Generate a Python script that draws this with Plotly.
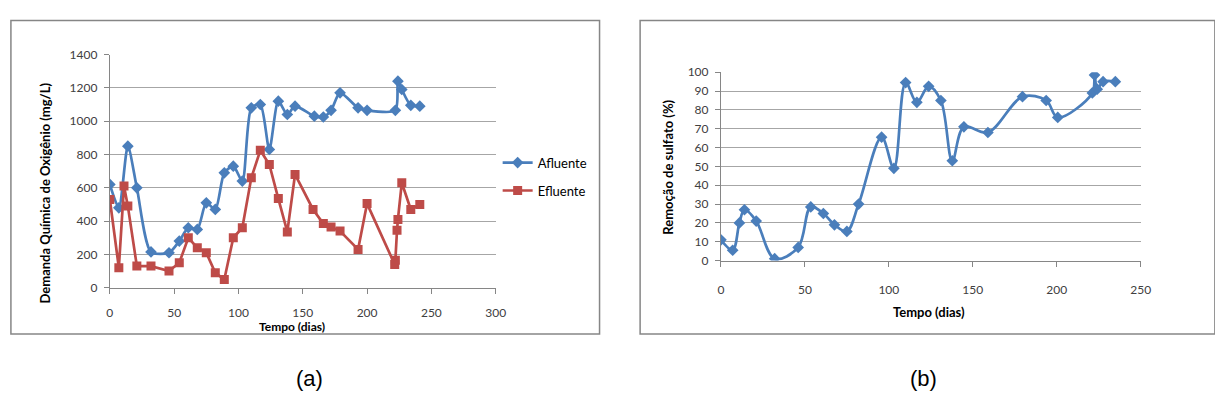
import plotly.graph_objects as go

W, H = 1215, 405

# ---- data panel (a) ----
afl_dias = [0, 7, 14, 21, 32, 46, 54, 61, 68, 75, 82, 89, 96, 103, 110, 117, 124, 131, 138, 144,
            159, 166, 172, 179, 193, 200, 222, 224, 227, 234, 241]
afl_dqo = [620, 480, 850, 600, 215, 210, 280, 360, 350, 510, 470, 690, 730, 640, 1080, 1100, 830, 1120, 1040, 1090,
           1030, 1025, 1065, 1170, 1080, 1065, 1065, 1240, 1190, 1095, 1090]

efl_dias = [0, 7, 11, 14, 21, 32, 46, 54, 61, 68, 75, 82, 89, 96, 103, 110, 117, 124, 131, 138, 144,
            158, 166, 172, 179, 193, 200, 221.5, 222, 223.3, 224, 227, 234, 241]
efl_dqo = [530, 120, 610, 490, 130, 130, 100, 150, 300, 240, 210, 90, 50, 300, 360, 660, 825, 740, 535, 335, 680,
           470, 385, 365, 340, 230, 505, 140, 165, 345, 410, 630, 470, 500]

# ---- data panel (b) ----
rem_dias = [0, 7, 11, 14, 21, 32, 46, 53.5, 61, 67.6, 75, 82, 95.7, 103, 110, 116.7, 123.7, 131, 137.8, 144.7,
            159, 179.6, 193.7, 200.6, 221.2, 222.5, 224.1, 227.6, 234.9]
rem_pct = [11, 5.5, 20, 27, 21, 1, 7, 28.5, 25, 19, 15.5, 30, 65.5, 49, 94.5, 84, 92.5, 85, 53, 71,
           68, 87, 85, 76, 89, 98.5, 91, 95, 95]

xa_ticks = [0, 50, 100, 150, 200, 250, 300]
ya_ticks = [0, 200, 400, 600, 800, 1000, 1200, 1400]
xb_ticks = [0, 50, 100, 150, 200, 250]
yb_ticks = [0, 10, 20, 30, 40, 50, 60, 70, 80, 90, 100]

BLUE = "#4A7EBB"
RED = "#BE4B48"
GRID = "#A6A6A6"
AXIS = "#868686"
TXT = "#404040"
FONT = "Lato, Open Sans, sans-serif"

def px(x):
    return x / W

def py(y):
    return 1 - y / H

fig = go.Figure()

fig.add_trace(go.Scatter(x=afl_dias, y=afl_dqo, name="Afluente", mode="lines+markers",
                         line=dict(color=BLUE, width=2.7, shape="spline", smoothing=0.7),
                         marker=dict(symbol="diamond", size=9, color=BLUE),
                         xaxis="x", yaxis="y", legendgroup="a"))
fig.add_trace(go.Scatter(x=efl_dias, y=efl_dqo, name="Efluente", mode="lines+markers",
                         line=dict(color=RED, width=2.7),
                         marker=dict(symbol="square", size=9, color=RED),
                         xaxis="x", yaxis="y", legendgroup="b"))
fig.add_trace(go.Scatter(x=rem_dias, y=rem_pct, name="Remoção", mode="lines+markers",
                         line=dict(color=BLUE, width=2.7, shape="spline", smoothing=1.0),
                         marker=dict(symbol="diamond", size=9, color=BLUE),
                         xaxis="x2", yaxis="y2", showlegend=False))

axis_common = dict(showline=True, linecolor=AXIS, linewidth=1, ticks="outside", ticklen=5,
                   tickcolor=AXIS, tickfont=dict(family=FONT, size=12, color=TXT), zeroline=False)

fig.update_layout(
    width=W, height=H, margin=dict(l=0, r=0, t=0, b=0),
    paper_bgcolor="white", plot_bgcolor="white",
    font=dict(family=FONT, size=12, color=TXT),
    xaxis=dict(domain=[px(108), px(498)], range=[0, 300], tickvals=xa_ticks, showgrid=False,
               anchor="y", ticklabelstandoff=9, **axis_common),
    yaxis=dict(domain=[py(290.5), py(48.3)], range=[0, 1400], tickvals=ya_ticks, showgrid=True,
               gridcolor=GRID, gridwidth=1, anchor="x", ticklabelstandoff=4, **axis_common),
    xaxis2=dict(domain=[px(725.7), px(1150)], range=[0, 250], tickvals=xb_ticks, showgrid=False,
                anchor="y2", ticklabelstandoff=13, **axis_common),
    yaxis2=dict(domain=[py(262.3), py(66.7)], range=[0, 100], tickvals=yb_ticks, showgrid=True,
                gridcolor=GRID, gridwidth=1, anchor="x2", ticklabelstandoff=4, **axis_common),
    legend=dict(x=px(500), y=py(145), xanchor="left", yanchor="top",
                font=dict(family=FONT, size=13, color="#000000"), bgcolor="rgba(0,0,0,0)",
                tracegroupgap=8, traceorder="grouped", itemwidth=30),
    showlegend=True,
)

shapes = [
    dict(type="rect", xref="paper", yref="paper", x0=px(8), x1=px(603), y0=py(338.5), y1=py(13),
         line=dict(color=AXIS, width=1.5), fillcolor="rgba(0,0,0,0)", layer="below"),
    dict(type="rect", xref="paper", yref="paper", x0=px(644), x1=px(1225), y0=py(338.5), y1=py(13),
         line=dict(color=AXIS, width=1.5), fillcolor="rgba(0,0,0,0)", layer="below"),
]
fig.update_layout(shapes=shapes)

bold = dict(family=FONT, size=13, color="#000000")
annotations = [
    dict(text="<b>Demanda Química de Oxigênio (mg/L)</b>", x=px(42), y=py(192), xref="paper", yref="paper",
         textangle=-90, showarrow=False, font=bold, xanchor="center", yanchor="middle"),
    dict(text="<b>Tempo (dias)</b>", x=px(292), y=py(331), xref="paper", yref="paper",
         showarrow=False, font=dict(family=FONT, size=12, color="#000000"),
         xanchor="center", yanchor="middle"),
    dict(text="<b>Remoção de sulfato (%)</b>", x=px(672), y=py(165), xref="paper", yref="paper",
         textangle=-90, showarrow=False, font=bold, xanchor="center", yanchor="middle"),
    dict(text="<b>Tempo (dias)</b>", x=px(936), y=py(316), xref="paper", yref="paper",
         showarrow=False, font=bold, xanchor="center", yanchor="middle"),
    dict(text="(a)", x=px(310), y=py(385), xref="paper", yref="paper", showarrow=False,
         font=dict(family="Liberation Sans Narrow, Liberation Sans, sans-serif", size=22, color="#000000"),
         xanchor="center", yanchor="middle"),
    dict(text="(b)", x=px(930), y=py(385), xref="paper", yref="paper", showarrow=False,
         font=dict(family="Liberation Sans Narrow, Liberation Sans, sans-serif", size=22, color="#000000"),
         xanchor="center", yanchor="middle"),
]
fig.update_layout(annotations=annotations)

fig.write_html("out.html", config={"displayModeBar": False},
               post_script="document.body.style.margin='0';document.body.style.overflow='hidden';")
